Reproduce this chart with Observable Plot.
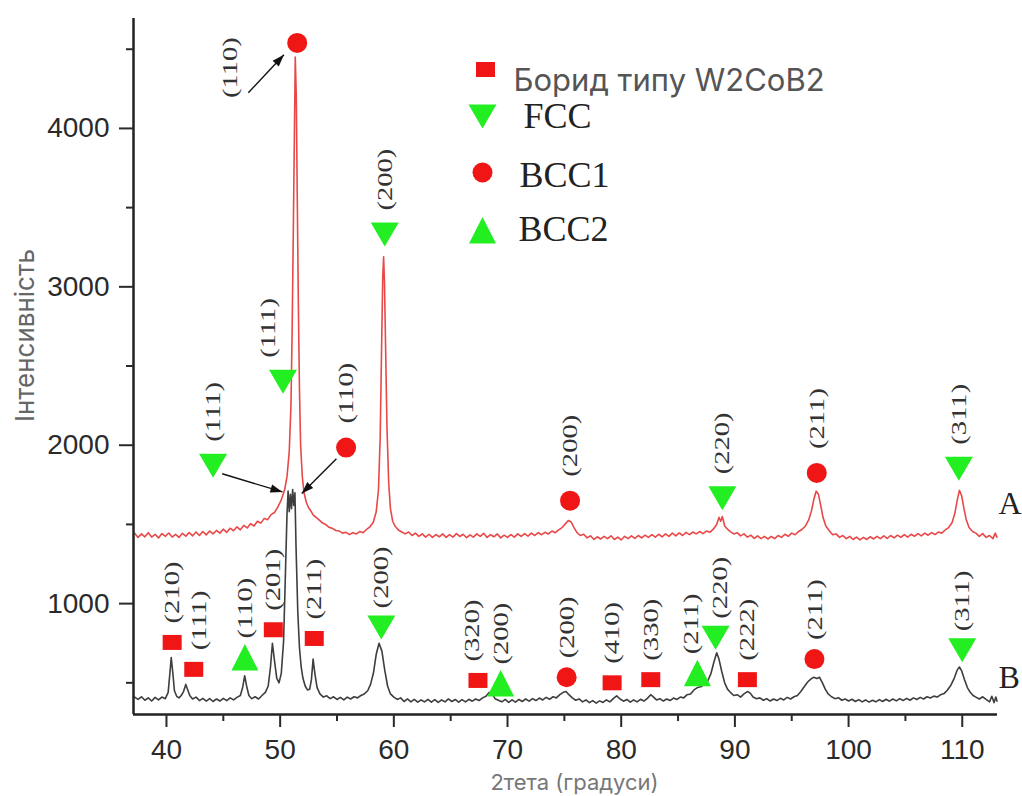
<!DOCTYPE html>
<html><head><meta charset="utf-8">
<script src="https://cdn.jsdelivr.net/npm/d3@7"></script>
<script src="https://cdn.jsdelivr.net/npm/@observablehq/plot@0.6"></script>
<style>body{margin:0;background:#fff;overflow:hidden}</style>
</head><body><div id="chart"></div>
<script>
// ---------- DATA ----------
// Curve A (red): [2theta, intensity]
const curveA = [
[37.2,1445],[37.5,1418],[37.8,1440],[38.1,1422],[38.4,1448],[38.7,1420],[39.0,1438],[39.3,1415],[39.6,1442],[39.9,1425],
[40.2,1446],[40.5,1420],[40.8,1437],[41.1,1418],[41.4,1444],[41.7,1426],[42.0,1449],[42.3,1428],[42.6,1452],[42.9,1430],
[43.2,1455],[43.5,1434],[43.8,1458],[44.1,1440],[44.4,1462],[44.7,1445],[45.0,1470],[45.3,1450],[45.6,1476],[45.9,1460],
[46.2,1485],[46.5,1466],[46.8,1494],[47.1,1478],[47.4,1505],[47.7,1490],[48.0,1520],[48.3,1508],[48.6,1538],[48.9,1530],
[49.2,1562],[49.5,1575],[49.8,1610],[50.1,1655],[50.4,1720],[50.6,1800],[50.8,1960],[50.95,2250],[51.05,2700],[51.15,3300],
[51.25,3950],[51.33,4450],[51.42,4200],[51.5,3600],[51.6,2900],[51.7,2350],[51.8,2000],[51.95,1800],[52.1,1700],[52.3,1640],
[52.5,1605],[52.7,1585],[52.9,1560],[53.1,1548],[53.4,1530],[53.7,1510],[54.0,1500],[54.3,1482],[54.6,1475],[54.9,1462],
[55.2,1458],[55.5,1445],[55.8,1450],[56.1,1436],[56.4,1448],[56.7,1440],[57.0,1455],[57.3,1448],[57.6,1468],[57.9,1485],
[58.2,1515],[58.45,1580],[58.65,1720],[58.8,2050],[58.92,2600],[59.02,3050],[59.1,3190],[59.18,3020],[59.28,2600],[59.4,2100],
[59.55,1760],[59.7,1600],[59.9,1520],[60.1,1490],[60.4,1465],[60.7,1452],[61.0,1440],[61.3,1452],[61.6,1430],[61.9,1445],
[62.2,1425],[62.5,1440],[62.8,1420],[63.1,1438],[63.4,1418],[63.7,1436],[64.0,1422],[64.3,1440],[64.6,1418],[64.9,1435],
[65.2,1420],[65.5,1442],[65.8,1424],[66.1,1438],[66.4,1416],[66.7,1434],[67.0,1420],[67.3,1440],[67.6,1425],[67.9,1444],
[68.2,1418],[68.5,1436],[68.8,1422],[69.1,1440],[69.4,1415],[69.7,1432],[70.0,1418],[70.3,1436],[70.6,1420],[70.9,1440],
[71.2,1424],[71.5,1442],[71.8,1426],[72.1,1445],[72.4,1430],[72.7,1448],[73.0,1435],[73.3,1450],[73.6,1440],[73.9,1458],
[74.2,1448],[74.5,1466],[74.8,1480],[75.1,1505],[75.35,1525],[75.6,1515],[75.85,1480],[76.1,1450],[76.4,1430],[76.7,1438],
[77.0,1415],[77.3,1428],[77.6,1405],[77.9,1422],[78.2,1408],[78.5,1425],[78.8,1410],[79.1,1428],[79.4,1405],[79.7,1420],
[80.0,1402],[80.3,1425],[80.6,1410],[80.9,1428],[81.2,1412],[81.5,1430],[81.8,1415],[82.1,1432],[82.4,1418],[82.7,1435],
[83.0,1420],[83.3,1438],[83.6,1422],[83.9,1440],[84.2,1425],[84.5,1445],[84.8,1428],[85.1,1446],[85.4,1430],[85.7,1450],
[86.0,1435],[86.3,1452],[86.6,1440],[86.9,1455],[87.2,1442],[87.5,1458],[87.8,1450],[88.1,1470],[88.4,1500],[88.6,1545],
[88.75,1520],[88.9,1550],[89.1,1490],[89.35,1470],[89.6,1455],[89.9,1440],[90.2,1448],[90.5,1428],[90.8,1440],[91.1,1420],
[91.4,1432],[91.7,1412],[92.0,1428],[92.3,1410],[92.6,1425],[92.9,1408],[93.2,1424],[93.5,1410],[93.8,1430],[94.1,1418],
[94.4,1438],[94.7,1425],[95.0,1445],[95.3,1435],[95.6,1455],[95.9,1468],[96.2,1490],[96.5,1530],[96.75,1590],[96.95,1660],
[97.15,1710],[97.35,1690],[97.55,1620],[97.75,1545],[98.0,1490],[98.3,1460],[98.6,1435],[98.9,1440],[99.2,1418],[99.5,1430],
[99.8,1410],[100.1,1425],[100.4,1405],[100.7,1420],[101.0,1402],[101.3,1418],[101.6,1405],[101.9,1422],[102.2,1408],[102.5,1425],
[102.8,1410],[103.1,1428],[103.4,1412],[103.7,1430],[104.0,1415],[104.3,1432],[104.6,1418],[104.9,1436],[105.2,1420],[105.5,1438],
[105.8,1425],[106.1,1442],[106.4,1428],[106.7,1445],[107.0,1432],[107.3,1448],[107.6,1436],[107.9,1452],[108.2,1445],[108.5,1465],
[108.8,1480],[109.1,1510],[109.35,1570],[109.55,1650],[109.75,1715],[109.95,1680],[110.15,1600],[110.35,1530],[110.6,1480],[110.9,1455],
[111.2,1445],[111.5,1425],[111.8,1442],[112.1,1418],[112.4,1430],[112.7,1410],[112.9,1445],[113.05,1420]
];
// Curve B (dark gray): [2theta, intensity]
const curveB = [
[37.2,410],[37.5,395],[37.8,412],[38.1,390],[38.4,405],[38.7,385],[39.0,408],[39.3,392],[39.6,410],[39.9,400],
[40.15,440],[40.3,560],[40.42,660],[40.55,570],[40.7,450],[40.9,415],[41.1,405],[41.3,420],[41.5,445],[41.7,490],
[41.85,460],[42.05,420],[42.3,398],[42.6,410],[42.9,388],[43.2,402],[43.5,385],[43.8,400],[44.1,382],[44.4,398],
[44.7,385],[45.0,402],[45.3,388],[45.6,405],[45.9,392],[46.2,408],[46.5,420],[46.7,470],[46.88,545],[47.05,480],
[47.25,420],[47.5,400],[47.8,412],[48.1,398],[48.4,420],[48.7,440],[48.95,480],[49.15,600],[49.32,750],[49.5,640],
[49.7,530],[49.9,500],[50.1,560],[50.3,760],[50.45,1150],[50.6,1560],[50.7,1710],[50.8,1580],[50.9,1690],[51.0,1600],
[51.1,1720],[51.2,1620],[51.3,1700],[51.4,1350],[51.55,950],[51.7,720],[51.85,600],[52.0,530],[52.2,480],[52.4,455],
[52.6,460],[52.75,520],[52.9,650],[53.05,560],[53.25,470],[53.5,430],[53.8,410],[54.1,418],[54.4,400],[54.7,412],
[55.0,395],[55.3,408],[55.6,392],[55.9,410],[56.2,398],[56.5,412],[56.8,405],[57.1,420],[57.4,430],[57.7,450],
[57.95,490],[58.2,560],[58.45,680],[58.7,750],[58.95,700],[59.2,580],[59.45,480],[59.7,430],[60.0,410],[60.3,395],
[60.6,405],[60.9,382],[61.2,398],[61.5,380],[61.8,395],[62.1,378],[62.4,392],[62.7,380],[63.0,396],[63.3,378],
[63.6,394],[63.9,376],[64.2,392],[64.5,380],[64.8,398],[65.1,382],[65.4,395],[65.7,378],[66.0,394],[66.3,380],
[66.6,396],[66.9,384],[67.2,398],[67.5,388],[67.8,405],[68.1,415],[68.4,440],[68.65,430],[68.9,400],[69.2,390],
[69.5,380],[69.8,395],[70.1,376],[70.4,392],[70.7,378],[71.0,395],[71.3,382],[71.6,398],[71.9,384],[72.2,400],
[72.5,388],[72.8,404],[73.1,392],[73.4,408],[73.7,396],[74.0,412],[74.3,405],[74.6,425],[74.9,440],[75.15,445],
[75.4,425],[75.7,405],[76.0,390],[76.3,398],[76.6,380],[76.9,392],[77.2,375],[77.5,388],[77.8,372],[78.1,386],
[78.4,376],[78.7,392],[79.0,380],[79.3,400],[79.6,418],[79.9,398],[80.2,384],[80.5,395],[80.8,378],[81.1,392],
[81.4,380],[81.7,396],[82.0,385],[82.3,402],[82.6,425],[82.85,410],[83.1,392],[83.4,400],[83.7,385],[84.0,398],
[84.3,388],[84.6,404],[84.9,395],[85.2,410],[85.5,405],[85.8,425],[86.1,430],[86.4,455],[86.7,470],[87.0,475],
[87.3,490],[87.6,510],[87.9,560],[88.15,630],[88.4,690],[88.6,650],[88.85,570],[89.1,500],[89.35,460],[89.6,440],
[89.9,420],[90.2,425],[90.5,410],[90.8,430],[91.1,445],[91.35,435],[91.6,410],[91.9,400],[92.2,405],[92.5,390],
[92.8,400],[93.1,385],[93.4,398],[93.7,388],[94.0,402],[94.3,392],[94.6,408],[94.9,398],[95.2,412],[95.5,420],
[95.8,445],[96.1,475],[96.4,505],[96.7,525],[96.95,535],[97.2,528],[97.45,535],[97.7,500],[97.95,460],[98.2,430],
[98.5,412],[98.8,400],[99.1,406],[99.4,390],[99.7,398],[100.0,385],[100.3,396],[100.6,382],[100.9,394],[101.2,380],
[101.5,392],[101.8,378],[102.1,390],[102.4,380],[102.7,394],[103.0,382],[103.3,396],[103.6,384],[103.9,398],[104.2,386],
[104.5,400],[104.8,388],[105.1,402],[105.4,390],[105.7,405],[106.0,395],[106.3,408],[106.6,398],[106.9,412],[107.2,404],
[107.5,416],[107.8,410],[108.1,425],[108.4,432],[108.7,455],[109.0,485],[109.3,530],[109.55,580],[109.75,600],[109.95,575],
[110.2,520],[110.45,470],[110.7,440],[110.95,420],[111.2,410],[111.5,398],[111.8,412],[112.1,395],[112.4,380],[112.6,415],
[112.8,375],[112.95,410],[113.05,385]
];
// Phase markers on curve A: [phase, 2theta, intensity, hkl, label 2theta (optional), label intensity (optional)]
const markersA = [
["BCC1",51.5,4540,"(110)",45.6,4040],
["FCC",50.25,2400,"(111)",48.9,null],
["FCC",44.1,1870,"(111)",null,null],
["BCC1",55.8,1985,"(110)",null,null],
["FCC",59.2,3330,"(200)",null,null],
["BCC1",75.5,1650,"(200)",null,null],
["FCC",88.9,1665,"(220)",null,null],
["BCC1",97.2,1825,"(211)",null,null],
["FCC",109.7,1852,"(311)",null,null]
];
// Phase markers on curve B
const markersB = [
["W2CoB2",40.5,755,"(210)",null,null],
["W2CoB2",42.4,585,"(111)",42.9,null],
["BCC2",46.9,660,"(110)",null,null],
["W2CoB2",49.4,835,"(201)",null,null],
["W2CoB2",53.0,780,"(211)",null,null],
["FCC",58.9,850,"(200)",null,null],
["W2CoB2",67.4,515,"(320)",66.9,null],
["BCC2",69.4,495,"(200)",null,null],
["BCC1",75.2,535,"(200)",null,null],
["W2CoB2",79.2,500,"(410)",null,null],
["W2CoB2",82.6,520,"(330)",null,null],
["BCC2",86.7,560,"(211)",86.1,null],
["FCC",88.3,785,"(220)",88.7,null],
["W2CoB2",91.1,520,"(222)",null,null],
["BCC1",97.0,650,"(211)",null,null],
["FCC",110.0,705,"(311)",null,null]
];
// Arrows: [x1, y1, x2, y2] in (2theta, intensity)
const arrows = [
[47.2,4225,50.33,4465],
[44.9,1820,50.2,1705],
[54.95,1915,51.9,1695]
];
const phases = ["W2CoB2","FCC","BCC1","BCC2"];
const legendLabels = ["Борид типу W2CoB2","FCC","BCC1","BCC2"];
const curveNames = ["A","B"];
const xMajor = [40,50,60,70,80,90,100,110];
const xMinor = [45,55,65,75,85,95,105];
const yMajor = [1000,2000,3000,4000];
const yMinor = [500,1500,2500,3500,4500];
const xDomain = [37.1,113.1];
const yDomain = [300,4694];
const xTitle = "2тета (градуси)";
const yTitle = "Інтенсивність";

// ---------- STYLE ----------
const RED = "#f01616", GREEN = "#22ee22";
const symRect = {draw(c){c.moveTo(-9.5,-7.5);c.lineTo(9.5,-7.5);c.lineTo(9.5,7.5);c.lineTo(-9.5,7.5);c.closePath();}};
const symDown = {draw(c){c.moveTo(-14,-12);c.lineTo(14,-12);c.lineTo(0,12);c.closePath();}};
const symUp = {draw(c){c.moveTo(0,-13.5);c.lineTo(13.5,13);c.lineTo(-13.5,13);c.closePath();}};
const symCirc = {draw(c){c.moveTo(10,0);c.arc(0,0,10,0,2*Math.PI);}};
const phaseStyle = {
  W2CoB2: {symbol: symRect, fill: RED},
  FCC: {symbol: symDown, fill: GREEN},
  BCC1: {symbol: symCirc, fill: RED},
  BCC2: {symbol: symUp, fill: GREEN}
};
const toObj = m => ({phase: m[0], tt: m[1], I: m[2], hkl: m[3], ltt: m[4] ?? m[1], lI: m[5] ?? m[2]});
const mA = markersA.map(toObj), mB = markersB.map(toObj);
const allMarkers = mA.concat(mB);

const markerMarks = phases.map(p => Plot.dot(allMarkers.filter(d => d.phase === p), {
  x: "tt", y: "I", symbol: phaseStyle[p].symbol, fill: phaseStyle[p].fill, stroke: "none", r: 10
}));

const labelStyle = {rotate: -90, textAnchor: "start", lineAnchor: "middle", fontFamily: "Liberation Serif, Times New Roman, serif", fontSize: 22, fill: "#333"};

// legend (pixel offsets from frame top-left)
const legOffsets = [[352,51,380,63],[349,98,390,98],[349,154,386,157],[349,212,385,211]];
const legendMarks = [];
phases.forEach((p,i) => {
  const o = legOffsets[i];
  legendMarks.push(Plot.dot([p], {frameAnchor: "top-left", dx: o[0], dy: o[1], symbol: phaseStyle[p].symbol, fill: phaseStyle[p].fill, r: 10}));
  legendMarks.push(Plot.text([legendLabels[i]], {frameAnchor: "top-left", dx: o[2], dy: o[3], textAnchor: "start", lineAnchor: "middle",
    fontFamily: i === 0 ? "Inter, Open Sans, sans-serif" : "Liberation Serif, Times New Roman, serif",
    fontSize: i === 0 ? 31 : 36, fill: i === 0 ? "#555" : "#222"}));
});

const plot = Plot.plot({
  width: 1022, height: 796,
  marginLeft: 133, marginRight: 25, marginTop: 18, marginBottom: 82,
  style: {fontFamily: "Liberation Sans, Arial, sans-serif", fontSize: "28px", color: "#2a2a2a", background: "#fff"},
  x: {domain: xDomain},
  y: {domain: yDomain},
  marks: [
    Plot.line(curveA, {x: d => d[0], y: d => d[1], stroke: "#e84848", strokeWidth: 1.6}),
    Plot.line(curveB, {x: d => d[0], y: d => d[1], stroke: "#3e3e3e", strokeWidth: 1.6}),
    Plot.ruleX([xDomain[0]], {y1: yDomain[0], y2: yDomain[1], stroke: "#222", strokeWidth: 2.5}),
    Plot.ruleY([yDomain[0]], {x1: xDomain[0], x2: xDomain[1], stroke: "#222", strokeWidth: 2.5}),
    Plot.axisX(xMajor, {tickSize: 13, tickPadding: 12, strokeWidth: 2, fontSize: 28, tickFormat: d3.format("d"), label: null}),
    Plot.axisX(xMinor, {tickSize: 7, tickFormat: () => "", strokeWidth: 2, label: null}),
    Plot.axisY(yMajor, {anchor: "left", tickSize: 14, tickPadding: 10, strokeWidth: 2, fontSize: 28, tickFormat: d3.format("d"), label: null}),
    Plot.axisY(yMinor, {anchor: "left", tickSize: 7, tickFormat: () => "", strokeWidth: 2, label: null}),
    Plot.link(arrows, {x1: d => d[0], y1: d => d[1], x2: d => d[2], y2: d => d[3], stroke: "#111", strokeWidth: 1.4}),
    ...markerMarks,
    Plot.text(mA, {x: "ltt", y: "lI", text: "hkl", dy: -24, ...labelStyle}),
    Plot.text(mB, {x: "ltt", y: "lI", text: "hkl", dy: -19, ...labelStyle}),
    Plot.text([curveNames[0]], {frameAnchor: "top-right", dx: 1, dy: 485, textAnchor: "start", lineAnchor: "middle", fontFamily: "Liberation Serif, serif", fontSize: 32, fill: "#222"}),
    Plot.text([curveNames[1]], {frameAnchor: "top-right", dx: 1, dy: 659, textAnchor: "start", lineAnchor: "middle", fontFamily: "Liberation Serif, serif", fontSize: 32, fill: "#222"}),
    ...legendMarks,
    Plot.text([xTitle], {frameAnchor: "bottom", dx: 9, dy: 68, textAnchor: "middle", lineAnchor: "middle", fontFamily: "Inter, Open Sans, sans-serif", fontSize: 22, fill: "#777"}),
    Plot.text([yTitle], {frameAnchor: "left", dx: -108, dy: -31, rotate: -90, textAnchor: "middle", lineAnchor: "middle", fontFamily: "Inter, Open Sans, sans-serif", fontSize: 26, fill: "#666"})
  ]
});
document.getElementById("chart").appendChild(plot);

// post-process: stretch hkl labels along their length, filled arrowheads
const svg = d3.select(plot);
svg.selectAll("text").each(function(){
  const t = this.textContent;
  if (/^\(\d{3}\)$/.test(t)) {
    const tr = this.getAttribute("transform") || "";
    this.setAttribute("transform", tr + " scale(1.3,1)");
  }
});
const defs = svg.insert("defs", ":first-child");
defs.append("marker").attr("id","ahead").attr("viewBox","0 0 12 10").attr("refX",12).attr("refY",5)
  .attr("markerWidth",13).attr("markerHeight",10).attr("markerUnits","userSpaceOnUse").attr("orient","auto")
  .append("path").attr("d","M0,0.8L12,5L0,9.2Z").attr("fill","#111");
svg.selectAll('g[aria-label="link"] path').attr("marker-end","url(#ahead)");
</script>
</body></html>
